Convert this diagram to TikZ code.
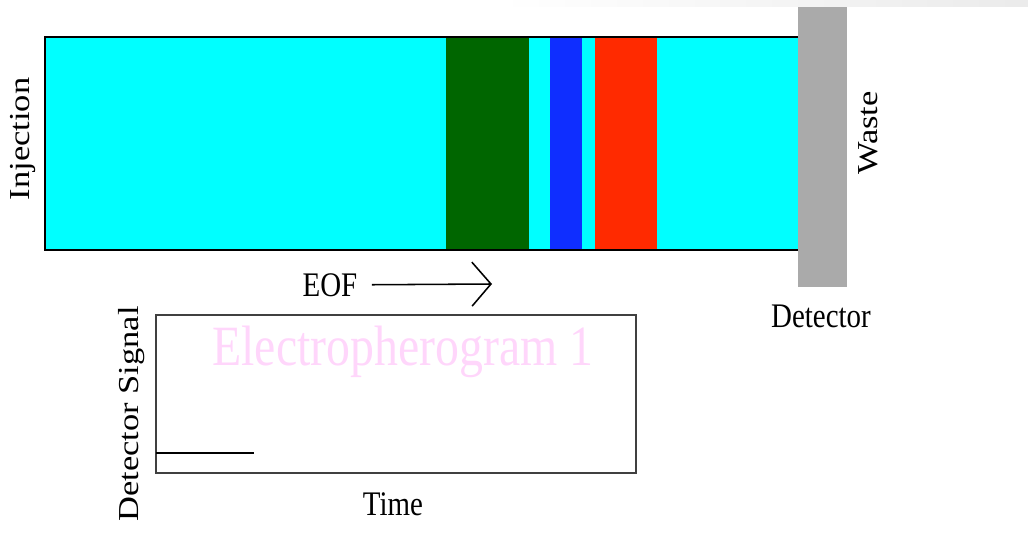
\documentclass[tikz,border=0pt]{standalone}
\usepackage{fontspec}
\setmainfont{Liberation Serif}
\usetikzlibrary{arrows.meta}

\definecolor{buffer}{HTML}{00FFFF}
\definecolor{bandgreen}{HTML}{006600}
\definecolor{bandblue}{HTML}{0F2EFF}
\definecolor{bandred}{HTML}{FF2A00}
\definecolor{detgray}{HTML}{AAAAAA}
\definecolor{ghostpink}{HTML}{FFD6FB}

\begin{document}
\begin{tikzpicture}[x=0.025cm, y=-0.025cm, line width=1.1pt,
    lbl/.style={font=\fontsize{24.5}{28}\selectfont, inner sep=0pt},
    flat/.style={lbl, xscale=0.84},
    upright/.style={lbl, xscale=0.84, rotate=90}]
            %\draw[lightgray] (0, 0) grid[step=50] (1028, 546);
            \useasboundingbox (0, 0) rectangle (1028, 546);
            \shade[left color=white, right color=black!8] (500, 0) rectangle (1028, 6);
            % capillary with the separated bands
            \fill[buffer] (45, 37) rectangle (798, 250);
            \fill[bandgreen] (446, 37) rectangle (529, 250);
            \fill[bandblue] (550, 37) rectangle (582, 250);
            \fill[bandred] (595, 37) rectangle (657, 250);
            \draw (798, 37) -- (45, 37) -- (45, 250) -- (798, 250);
            \fill[detgray] (798, 7) rectangle (847, 287);
            \node[upright] (injection) at (23, 139) {Injection};
            \node[upright] (waste) at (868, 133) {Waste};
            \node[flat] (detector) at (821, 316) {Detector};
            \node[flat] (eof) at (330, 285) {EOF};
            \coordinate (eofend) at (492, 284);
            \draw[-{Straight Barb[length=0.475cm, width=1.1cm]}, shorten <=0.35cm] (eof) -- (eofend);
            % electropherogram
            \draw[black!75] (156, 315) rectangle (636, 473);
            \draw (156, 453) -- (254, 453);
            \node[flat, text=ghostpink, font=\fontsize{40.5}{44}\selectfont] (title) at (403, 352) {Electropherogram 1};
            \node[upright] (signal) at (132, 414) {Detector Signal};
            \node[flat] (time) at (393, 504) {Time};
        \end{tikzpicture}
\end{document}
